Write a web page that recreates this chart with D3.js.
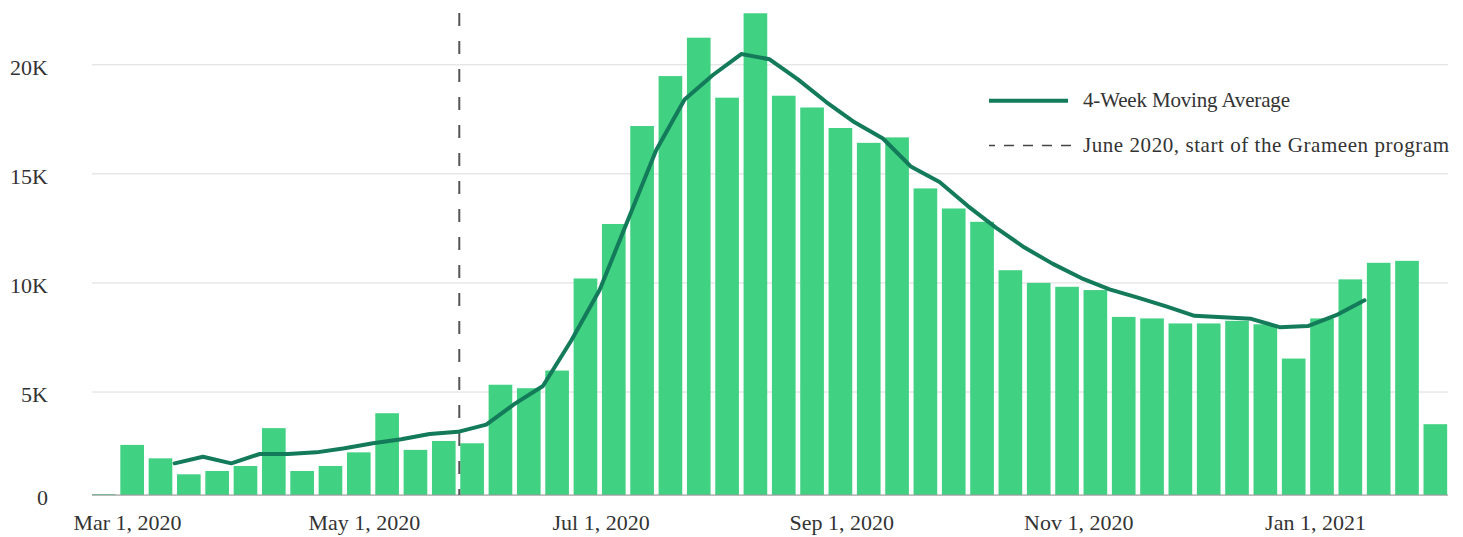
<!DOCTYPE html>
<html>
<head>
<meta charset="utf-8">
<script src="https://cdn.jsdelivr.net/npm/d3@7"></script>
<style>
  html, body { margin: 0; padding: 0; background: #fff; }
  svg text { font-family: "Liberation Serif", "DejaVu Serif", serif; fill: #333; }
</style>
</head>
<body>
<svg id="chart" width="1463" height="537"></svg>
<script>
// ---- data ----
const weeks = [
  "2020-03-02","2020-03-09","2020-03-16","2020-03-23","2020-03-30",
  "2020-04-06","2020-04-13","2020-04-20","2020-04-27",
  "2020-05-04","2020-05-11","2020-05-18","2020-05-25",
  "2020-06-01","2020-06-08","2020-06-15","2020-06-22","2020-06-29",
  "2020-07-06","2020-07-13","2020-07-20","2020-07-27",
  "2020-08-03","2020-08-10","2020-08-17","2020-08-24","2020-08-31",
  "2020-09-07","2020-09-14","2020-09-21","2020-09-28",
  "2020-10-05","2020-10-12","2020-10-19","2020-10-26",
  "2020-11-02","2020-11-09","2020-11-16","2020-11-23","2020-11-30",
  "2020-12-07","2020-12-14","2020-12-21","2020-12-28",
  "2021-01-04","2021-01-11","2021-01-18","2021-01-25"
];
const weeklyCount = [
  40, 2420, 1770, 1000, 1160,
  1400, 3230, 1160, 1400,
  2060, 3950, 2180, 2610,
  2500, 5310, 5150, 5960, 10180,
  12680, 17170, 19460, 21220,
  18470, 22340, 18560, 18020, 17080,
  16400, 16650, 14310, 13390,
  12780, 10560, 9980, 9800,
  9650, 8420, 8350, 8120, 8120,
  8240, 8080, 6510, 8350,
  10140, 10900, 10990, 3420
];
const movingAvg = [
  null, null, null, 1530, 1850,
  1530, 1980, 1980, 2060,
  2260, 2500, 2690, 2950,
  3050, 3400, 4400, 5250, 7340,
  9650, 12860, 16070, 18390,
  19510, 20470, 20230, 19310, 18270,
  17340, 16600, 15300, 14600,
  13500, 12500, 11600, 10850,
  10200, 9680, 9300, 8900, 8470,
  8400, 8330, 7950, 8000,
  8500, 9180, null, null
];
const programStart = "2020-06-01";
const yTickValues = [0, 5000, 10000, 15000, 20000];
const yTickLabels = ["0", "5K", "10K", "15K", "20K"];
const xTickDates = ["2020-03-01", "2020-05-01", "2020-07-01", "2020-09-01", "2020-11-01", "2021-01-01"];
const legendLabels = ["4-Week Moving Average", "June 2020, start of the Grameen program"];

// ---- layout / style ----
const barColor = "#40d182";
const lineColor = "#137a5a";
const gridColor = "#dcdcdc";
const plotLeft = 92, plotRight = 1448;

const svg = d3.select("#chart");
const parse = d3.utcParse("%Y-%m-%d");

const x = d3.scaleBand()
  .domain(weeks)
  .range([89.66, 1449.5])
  .paddingInner(0.165)
  .paddingOuter(0.0825);

const y = d3.scaleLinear()
  .domain([0, 5000, 20000])
  .range([495, 391.5, 64.3]);

const xLabel = d3.scaleUtc()
  .domain([parse(xTickDates[0]), parse(xTickDates[xTickDates.length - 1])])
  .range([127, 1315]);

// gridlines + y labels
const yAxis = svg.append("g")
  .attr("transform", `translate(${plotLeft},0)`)
  .call(d3.axisLeft(y)
    .tickValues(yTickValues)
    .tickFormat((d, i) => yTickLabels[i])
    .tickSize(-(plotRight - plotLeft))
    .tickPadding(44));
yAxis.select(".domain").remove();
yAxis.selectAll(".tick line").attr("stroke", gridColor).attr("stroke-width", 1);
yAxis.selectAll(".tick text")
  .attr("font-size", 22)
  .attr("dy", "0.45em")
  .style("fill", "#333");

// bars
svg.append("g")
  .selectAll("rect")
  .data(weeks)
  .join("rect")
  .attr("x", d => x(d))
  .attr("width", x.bandwidth())
  .attr("y", (d, i) => y(weeklyCount[i]))
  .attr("height", (d, i) => y(0) - y(weeklyCount[i]))
  .attr("fill", barColor);

// baseline
svg.append("line")
  .attr("x1", plotLeft).attr("x2", plotRight)
  .attr("y1", y(0)).attr("y2", y(0))
  .attr("stroke", "#9a9a9a").attr("stroke-width", 1.2);

// program start dashed line
const half = x.step() * x.paddingInner() / 2;
const px = x(programStart) - 1;
svg.append("line")
  .attr("x1", px).attr("x2", px)
  .attr("y1", 13).attr("y2", y(0))
  .attr("stroke", "#555").attr("stroke-width", 2)
  .attr("stroke-dasharray", "13,15");

// moving average line
const line = d3.line()
  .defined((d, i) => movingAvg[i] != null)
  .x(d => x(d) - half)
  .y((d, i) => y(movingAvg[i]));
svg.append("path")
  .datum(weeks)
  .attr("d", line)
  .attr("fill", "none")
  .attr("stroke", lineColor)
  .attr("stroke-width", 4)
  .attr("stroke-linejoin", "round")
  .attr("stroke-linecap", "round");

// x axis labels
const xAxis = svg.append("g")
  .attr("transform", "translate(0,530)")
  .call(d3.axisBottom(xLabel)
    .tickValues(xTickDates.map(parse))
    .tickFormat(d3.utcFormat("%b %-d, %Y"))
    .tickSize(0));
xAxis.select(".domain").remove();
xAxis.selectAll(".tick text")
  .attr("y", 0).attr("dy", 0)
  .attr("font-size", 22)
  .style("fill", "#333");

// legend
const legend = svg.append("g");
legend.append("line")
  .attr("x1", 989).attr("x2", 1068)
  .attr("y1", 100.7).attr("y2", 100.7)
  .attr("stroke", lineColor).attr("stroke-width", 4);
legend.append("text")
  .attr("x", 1083).attr("y", 107)
  .attr("font-size", 21)
  .attr("textLength", 207)
  .attr("lengthAdjust", "spacing")
  .text(legendLabels[0]);
legend.append("line")
  .attr("x1", 989).attr("x2", 1073)
  .attr("y1", 145.5).attr("y2", 145.5)
  .attr("stroke", "#444").attr("stroke-width", 1.5)
  .attr("stroke-dasharray", "10,9")
  .attr("stroke-dashoffset", 4);
legend.append("text")
  .attr("x", 1083).attr("y", 152)
  .attr("font-size", 21)
  .attr("textLength", 366)
  .attr("lengthAdjust", "spacing")
  .text(legendLabels[1]);
</script>
</body>
</html>
